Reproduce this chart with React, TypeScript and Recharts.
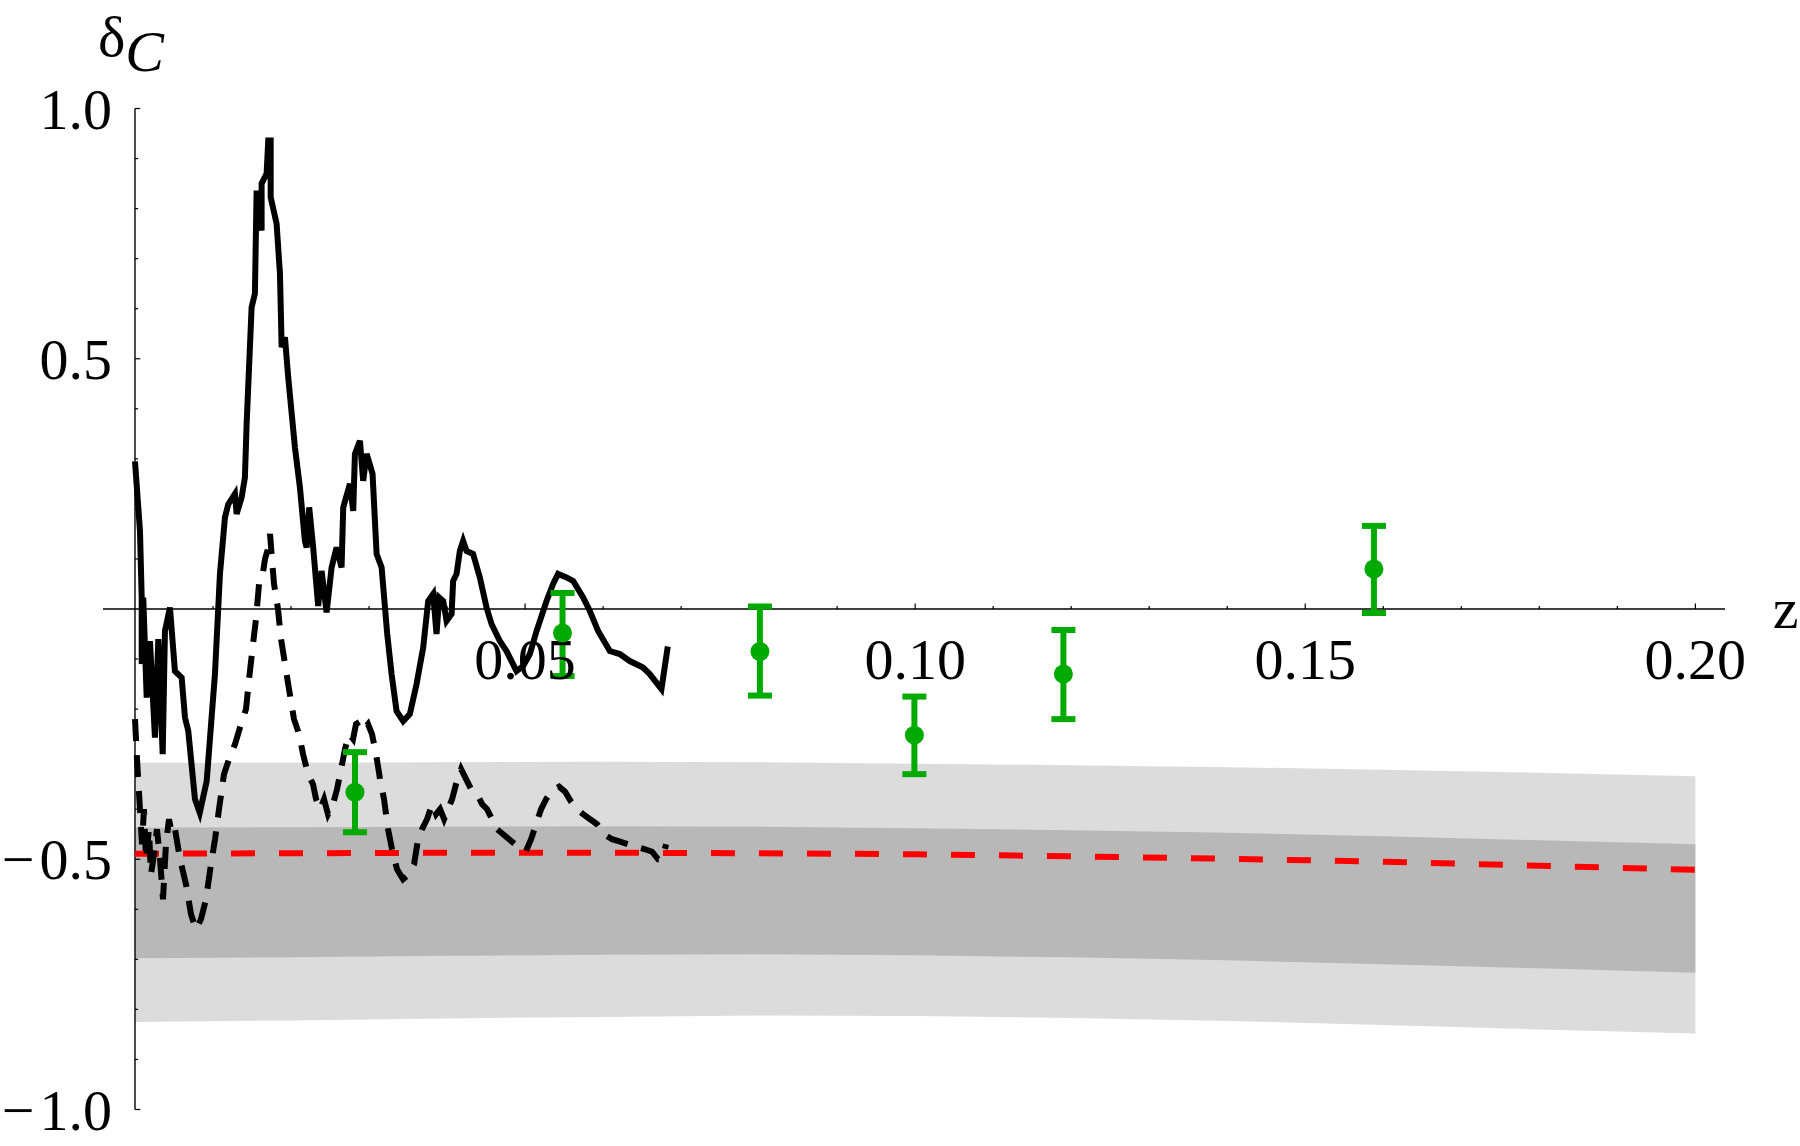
import React from 'react';
import {
  ComposedChart,
  XAxis,
  YAxis,
  Line,
  Area,
  Scatter,
  ErrorBar,
  ReferenceLine,
  ReferenceDot,
} from 'recharts';

const FONT = 'Liberation Serif';

// --- jagged reconstruction (solid) ---
const solidZ = [
  0, 0.00064, 0.00086, 0.00086, 0.00106, 0.0015, 0.00192, 0.00256, 0.00299, 0.00355, 0.00384,
  0.00448, 0.00512, 0.00598, 0.00641, 0.00683, 0.00769, 0.0083, 0.00919, 0.01025, 0.01089,
  0.01153, 0.01195, 0.01281, 0.01303, 0.01367, 0.01409, 0.01431, 0.01495, 0.01537, 0.01559,
  0.01623, 0.01623, 0.01687, 0.01708, 0.01739, 0.01739, 0.01815, 0.01858, 0.0188, 0.01922,
  0.01964, 0.0205, 0.02114, 0.02178, 0.022, 0.02233, 0.02284, 0.02348, 0.02392, 0.02456,
  0.0252, 0.02584, 0.02648, 0.02669, 0.02755, 0.02797, 0.02819, 0.02883, 0.02925, 0.02969,
  0.03045, 0.03097, 0.03161, 0.03233, 0.03289, 0.03353, 0.03438, 0.03523, 0.03609, 0.03694,
  0.03758, 0.03822, 0.03865, 0.03899, 0.0395, 0.03994, 0.04058, 0.04078, 0.04122, 0.04164,
  0.04206, 0.0425, 0.04334, 0.0442, 0.04506, 0.0457, 0.04676, 0.04762, 0.0489, 0.04975,
  0.05061, 0.05147, 0.05275, 0.05359, 0.05423, 0.05531, 0.05616, 0.05744, 0.0583, 0.05936,
  0.06086, 0.06214, 0.06342, 0.06512, 0.06598, 0.06748, 0.06829,
];
const solidY = [
  0.295, 0.156, 0.023, -0.11, 0.023, -0.177, -0.064, -0.257, -0.06, -0.29, -0.044,
  0.003, -0.124, -0.137, -0.217, -0.244, -0.38, -0.407, -0.344, -0.13, 0.07,
  0.183, 0.209, 0.23, 0.19, 0.223, 0.263, 0.37, 0.603, 0.63, 0.836,
  0.756, 0.85, 0.87, 0.936, 0.936, 0.823, 0.77, 0.67, 0.523, 0.543,
  0.463, 0.323, 0.243, 0.136, 0.123, 0.203, 0.123, 0.006, 0.076, -0.007,
  0.083, 0.123, 0.083, 0.203, 0.25, 0.196, 0.31, 0.336, 0.256, 0.31,
  0.27, 0.11, 0.083, -0.05, -0.13, -0.204, -0.224, -0.21, -0.15, -0.077,
  0.016, 0.03, -0.05, 0.023, 0.016, -0.024, -0.01, 0.056, 0.07, 0.116,
  0.136, 0.116, 0.11, 0.063, 0.003, -0.03, -0.064, -0.084, -0.124, -0.114,
  -0.09, -0.044, 0.016, 0.05, 0.07, 0.063, 0.056, 0.023, -0.004, -0.044,
  -0.084, -0.09, -0.104, -0.117, -0.13, -0.16, -0.075,
];

// --- jagged reconstruction (dashed) ---
const dashedZ = [
  0, 0.00026, 0.00064, 0.0009, 0.00115, 0.00141, 0.00179, 0.00205, 0.00244, 0.00282, 0.00321,
  0.00359, 0.00397, 0.00436, 0.00474, 0.00513, 0.00577, 0.00654, 0.00718, 0.00782, 0.00846,
  0.0091, 0.00974, 0.01026, 0.01077, 0.01141, 0.01205, 0.01282, 0.01359, 0.01423, 0.01462,
  0.01513, 0.01551, 0.0159, 0.01628, 0.01667, 0.01705, 0.01731, 0.01756, 0.01782, 0.01833,
  0.01872, 0.01923, 0.01974, 0.02038, 0.02103, 0.02154, 0.02218, 0.02282, 0.02321, 0.02372,
  0.02423, 0.02474, 0.02538, 0.0259, 0.02641, 0.02692, 0.02744, 0.02795, 0.02833, 0.02885,
  0.02936, 0.02987, 0.03038, 0.0309, 0.03141, 0.03192, 0.03244, 0.03295, 0.03359, 0.03436,
  0.03513, 0.03577, 0.03628, 0.03679, 0.03744, 0.03808, 0.03859, 0.0391, 0.03962, 0.04013,
  0.04064, 0.04115, 0.0418, 0.04244, 0.04308, 0.04385, 0.04449, 0.04513, 0.04577, 0.04641,
  0.04718, 0.04795, 0.04872, 0.04949, 0.05013, 0.05077, 0.05141, 0.05205, 0.05269, 0.05346,
  0.05436, 0.05513, 0.0559, 0.05667, 0.05744, 0.05833, 0.05923, 0.06013, 0.06115, 0.06218,
  0.06321, 0.06423, 0.06538, 0.06628, 0.06705, 0.06756, 0.06808,
];
const dashedY = [
  -0.22, -0.3, -0.4, -0.47, -0.4, -0.5, -0.44, -0.53, -0.49, -0.44, -0.5,
  -0.58, -0.47, -0.42, -0.45, -0.44, -0.5, -0.55, -0.61, -0.64, -0.62,
  -0.58, -0.51, -0.46, -0.4, -0.33, -0.3, -0.27, -0.23, -0.2, -0.14,
  -0.07, -0.02, 0.05, 0.06, 0.1, 0.12, 0.15, 0.1, 0.05, 0.0,
  -0.06, -0.11, -0.16, -0.22, -0.25, -0.29, -0.33, -0.35, -0.38, -0.4,
  -0.38, -0.41, -0.39, -0.36, -0.32, -0.28, -0.25, -0.26, -0.23, -0.225,
  -0.24, -0.23, -0.25, -0.29, -0.34, -0.38, -0.44, -0.48, -0.52, -0.54,
  -0.53, -0.51, -0.46, -0.44, -0.42, -0.39, -0.41, -0.4, -0.42, -0.4,
  -0.38, -0.35, -0.32, -0.34, -0.36, -0.37, -0.39, -0.4, -0.42, -0.44,
  -0.45, -0.46, -0.47, -0.475, -0.483, -0.46, -0.43, -0.4, -0.38, -0.362,
  -0.355, -0.365, -0.385, -0.4, -0.41, -0.42, -0.43, -0.45, -0.46, -0.465,
  -0.47, -0.475, -0.48, -0.485, -0.5, -0.5, -0.47,
];

// --- model curve and confidence bands ---
const modelZ = [0, 0.02, 0.04, 0.06, 0.08, 0.1, 0.12, 0.14, 0.16, 0.18, 0.2];
const modelY = [-0.489, -0.488, -0.487, -0.487, -0.488, -0.49, -0.494, -0.499, -0.505, -0.513, -0.521];
const outerHi = [-0.307, -0.307, -0.306, -0.305, -0.306, -0.309, -0.312, -0.316, -0.321, -0.327, -0.334];
const innerHi = [-0.437, -0.436, -0.435, -0.434, -0.435, -0.438, -0.442, -0.447, -0.454, -0.462, -0.47];
const innerLo = [-0.698, -0.696, -0.693, -0.691, -0.69, -0.692, -0.696, -0.702, -0.71, -0.718, -0.727];
const outerLo = [-0.825, -0.822, -0.818, -0.815, -0.812, -0.813, -0.817, -0.823, -0.831, -0.84, -0.848];

// --- binned measurements ---
const binZ = [0.0282, 0.0548, 0.0801, 0.0999, 0.119, 0.1588];
const binY = [-0.366, -0.048, -0.085, -0.252, -0.13, 0.08];
const binErrLow = [0.08, 0.086, 0.088, 0.078, 0.09, 0.088];
const binErrHigh = [0.08, 0.08, 0.09, 0.077, 0.088, 0.086];

// --- axes ---
const xTicks = [0.01, 0.02, 0.03, 0.04, 0.05, 0.06, 0.07, 0.08, 0.09, 0.1,
  0.11, 0.12, 0.13, 0.14, 0.15, 0.16, 0.17, 0.18, 0.19, 0.2];
const xMajor = [0.05, 0.1, 0.15, 0.2];
const xLabels = ['0.05', '0.10', '0.15', '0.20'];
const yTicks = [-1, -0.9, -0.8, -0.7, -0.6, -0.5, -0.4, -0.3, -0.2, -0.1,
  0.1, 0.2, 0.3, 0.4, 0.5, 0.6, 0.7, 0.8, 0.9, 1];
const yMajor = [-1, -0.5, 0.5, 1];
const yLabels = ['−1.0', '−0.5', '0.5', '1.0'];

const X_MIN = -0.0041;
const X_MAX = 0.2038;

const solidRows = solidZ.map((z, i) => ({ z, y: solidY[i] }));
const dashedRows = dashedZ.map((z, i) => ({ z, y: dashedY[i] }));
const modelRows = modelZ.map((z, i) => ({ z, y: modelY[i] }));
const bandRows = modelZ.map((z, i) => ({
  z,
  outer: [outerLo[i], outerHi[i]],
  inner: [innerLo[i], innerHi[i]],
}));
const binRows = binZ.map((z, i) => ({ z, y: binY[i], err: [binErrLow[i], binErrHigh[i]] }));

const isMajor = (list: number[], v: number) => list.some((m) => Math.abs(m - v) < 1e-9);

function textAt(text: string, dx: number, dy: number, anchor: 'start' | 'middle' | 'end') {
  return (props: any) => {
    const vb = props.viewBox || {};
    const x = (vb.x ?? 0) + (vb.width ?? 0) / 2 + dx;
    const y = (vb.y ?? 0) + (vb.height ?? 0) / 2 + dy;
    const neg = text.startsWith('−');
    return (
      <text x={x} y={y} textAnchor={anchor} fontFamily={FONT} fontSize={58} fill="#000">
        {neg ? (
          <>
            <tspan>−</tspan>
            <tspan dx={5}>{text.slice(1)}</tspan>
          </>
        ) : (
          text
        )}
      </text>
    );
  };
}

const yTitle = (props: any) => {
  const vb = props.viewBox || {};
  return (
    <text x={(vb.x ?? 0) - 37} y={(vb.y ?? 0) - 53} fontFamily={FONT} fontSize={58} fill="#000">
      <tspan>δ</tspan>
      <tspan fontStyle="italic" dy={15}>C</tspan>
    </text>
  );
};

const binDot = (p: any) => <circle cx={p.cx} cy={p.cy} r={9.5} fill="#00aa00" />;

export default function App() {
  return (
    <div style={{ position: 'absolute', left: 0, top: 0, background: '#fff' }}>
      <ComposedChart width={1800} height={1146} margin={{ top: 108.5, right: 75, bottom: 36.5, left: 103 }}>
        <XAxis type="number" dataKey="z" domain={[X_MIN, X_MAX]} allowDataOverflow hide />
        <YAxis type="number" dataKey="y" domain={[-1, 1]} allowDataOverflow hide />

        <Area data={bandRows} dataKey="outer" type="linear" stroke="none" fill="#dcdcdc" fillOpacity={1}
          dot={false} activeDot={false} isAnimationActive={false} />
        <Area data={bandRows} dataKey="inner" type="linear" stroke="none" fill="#b8b8b8" fillOpacity={1}
          dot={false} activeDot={false} isAnimationActive={false} />

        {/* axes through the origin */}
        <ReferenceLine segment={[{ x: X_MIN, y: 0 }, { x: X_MAX, y: 0 }]} stroke="#000" strokeWidth={1.4} />
        <ReferenceLine segment={[{ x: 0, y: -1 }, { x: 0, y: 1 }]} stroke="#000" strokeWidth={1.4} />
        {xTicks.map((t) => (
          <ReferenceLine key={'xt' + t} segment={[{ x: t, y: 0 }, { x: t, y: isMajor(xMajor, t) ? 0.011 : 0.006 }]}
            stroke="#000" strokeWidth={1.2} />
        ))}
        {yTicks.map((t) => (
          <ReferenceLine key={'yt' + t} segment={[{ x: 0, y: t }, { x: isMajor(yMajor, t) ? 0.00068 : 0.0004, y: t }]}
            stroke="#000" strokeWidth={1.2} />
        ))}
        {xMajor.map((t, i) => (
          <ReferenceDot key={'xl' + t} x={t} y={0} r={0} fill="none" stroke="none"
            label={textAt(xLabels[i], 0, 70, 'middle')} />
        ))}
        {yMajor.map((t, i) => (
          <ReferenceDot key={'yl' + t} x={0} y={t} r={0} fill="none" stroke="none"
            label={textAt(yLabels[i], -23, 20, 'end')} />
        ))}
        <ReferenceDot x={0} y={1} r={0} fill="none" stroke="none" label={yTitle} />
        <ReferenceDot x={0.2035} y={0} r={0} fill="none" stroke="none" label={textAt('z', 50, 19, 'start')} />

        <Line data={modelRows} dataKey="y" type="linear" stroke="#ff0000" strokeWidth={6} strokeDasharray="24 24"
          dot={false} activeDot={false} isAnimationActive={false} />
        <Line data={dashedRows} dataKey="y" type="linear" stroke="#000" strokeWidth={6} strokeDasharray="22 14"
          dot={false} activeDot={false} isAnimationActive={false} />
        <Line data={solidRows} dataKey="y" type="linear" stroke="#000" strokeWidth={6}
          dot={false} activeDot={false} isAnimationActive={false} />

        <Scatter data={binRows} dataKey="y" fill="#00aa00" shape={binDot} isAnimationActive={false}>
          <ErrorBar dataKey="err" direction="y" width={12} stroke="#00aa00" strokeWidth={6} isAnimationActive={false} />
        </Scatter>
      </ComposedChart>
    </div>
  );
}
